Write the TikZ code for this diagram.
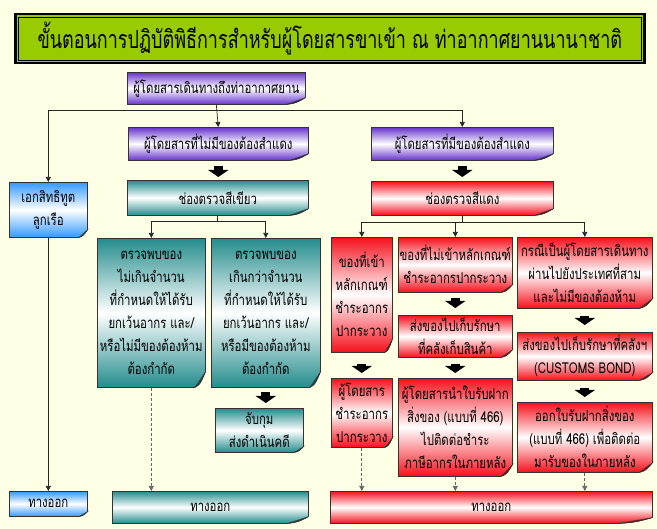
\documentclass[tikz,border=0pt]{standalone}
\usepackage{fontspec}
\newfontfamily\thai[Script=Thai,FakeStretch=0.76]{Loma}
\newfontfamily\thaititle[Script=Thai,FakeStretch=0.72]{Loma}
\usetikzlibrary{arrows.meta,calc}
\definecolor{bg}{HTML}{FFFFE6}
\definecolor{titlegreen}{HTML}{99CC00}
\definecolor{cpurple}{HTML}{6633CC}
\definecolor{cteal}{HTML}{238C8C}
\definecolor{cred}{HTML}{F5101C}
\definecolor{cblue}{HTML}{3399FF}
\newcommand\foldcorner[4]{%
  \fill[bg] ($(#1.south east)+(1.2,1.2)$) -- ($(#1.south east)+(-#3,1.2)$) -- ($(#1.south east)+(-#3,0)$) -- ($(#1.south east)+(0,-#4)$) -- ($(#1.south east)+(1.2,-#4)$) -- cycle;
  \draw[black!80,line width=0.6pt] ($(#1.south east)+(-#3-0.3,0)$) -- ($(#1.south east)+(-#3,0)$) .. controls ($(#1.south east)+(-0.5*#3,-0.2*#4)$) .. ($(#1.south east)+(0,-#4)$) -- ($(#1.south east)+(0,-#4-0.3)$);
  \fill[#2!55!black, draw=black!80, line width=0.4pt] ($(#1.south east)+(-#3,0)$) .. controls ($(#1.south east)+(-0.5*#3,-0.2*#4)$) .. ($(#1.south east)+(0,-#4)$) -- ($(#1.south east)+(-0.45*#3,-0.55*#4)$) -- cycle;
}
\begin{document}
\begin{tikzpicture}[x=1pt,y=-1pt,
  doc/.style={draw=black!80, line width=0.6pt, align=center, inner sep=0pt, anchor=north west,
    font=\thai\fontsize{15}{23}\selectfont},
  purp/.style={top color=cpurple, bottom color=cpurple, middle color=white},
  teal/.style={top color=cteal, bottom color=cteal, middle color=white},
  redd/.style={top color=cred, bottom color=cred, middle color=white},
  blu/.style={top color=cblue, bottom color=cblue, middle color=white},
  conn/.style={draw=black!85, line width=0.7pt},
  tip/.style={-{Triangle[width=5pt,length=5pt]}},
  dconn/.style={draw=black!60, line width=0.7pt, dash pattern=on 3pt off 2pt},
  blockarrow/.style={black, line width=9pt, -{Triangle[width=20pt,length=7pt]}},
]
\fill[bg] (0,0) rectangle (657,529);
\useasboundingbox (0,0) rectangle (657,529);

% title
\node[draw=black, line width=2.5pt, fill=titlegreen, minimum width=629pt, minimum height=49pt,
  anchor=north west, inner sep=0pt, font=\thaititle\fontsize{25}{30}\selectfont] (title) at (14,13)
  {ขั้นตอนการปฏิบัติพิธีการสำหรับผู้โดยสารขาเข้า ณ ท่าอากาศยานนานาชาติ};
\draw[line width=0.8pt] ($(title.north west)+(4,4)$) rectangle ($(title.south east)+(-4,-4)$);

% nodes
\node[doc, purp, minimum width=178pt, minimum height=32pt] (n1) at (127,72) {ผู้โดยสารเดินทางถึงท่าอากาศยาน};
\node[doc, purp, minimum width=180pt, minimum height=33pt] (n2) at (128,127) {ผู้โดยสารที่ไม่มีของต้องสำแดง};
\node[doc, purp, minimum width=182pt, minimum height=33pt] (n3) at (371,127) {ผู้โดยสารที่มีของต้องสำแดง};
\node[doc, blu, minimum width=78pt, minimum height=55pt] (diplo) at (9,182) {เอกสิทธิทูต\\ลูกเรือ};
\node[doc, teal, minimum width=181pt, minimum height=35pt] (gch) at (127,180) {ช่องตรวจสีเขียว};
\node[doc, redd, minimum width=182pt, minimum height=34pt] (rch) at (371,181) {ช่องตรวจสีแดง};
\node[doc, teal, minimum width=108pt, minimum height=149pt] (g1) at (97,238)
  {ตรวจพบของ\\ไม่เกินจำนวน\\ที่กำหนดให้ได้รับ\\ยกเว้นอากร และ/\\หรือไม่มีของต้องห้าม\\ต้องกำกัด};
\node[doc, teal, minimum width=109pt, minimum height=149pt] (g2) at (211,238)
  {ตรวจพบของ\\เกินกว่าจำนวน\\ที่กำหนดให้ได้รับ\\ยกเว้นอากร และ/\\หรือมีของต้องห้าม\\ต้องกำกัด};
\node[doc, teal, minimum width=88pt, minimum height=44pt] (jab) at (215,408) {จับกุม\\ส่งดำเนินคดี};
\node[doc, blu, minimum width=78pt, minimum height=25pt] (bexit) at (9,491) {ทางออก};
\node[doc, teal, minimum width=196pt, minimum height=32pt] (gexit) at (112,491) {ทางออก};
\node[doc, redd, minimum width=61pt, minimum height=115pt] (rA) at (331,237) {ของที่เข้า\\หลักเกณฑ์\\ชำระอากร\\ปากระวาง};
\node[doc, redd, minimum width=114pt, minimum height=55pt] (rB) at (398,237) {ของที่ไม่เข้าหลักเกณฑ์\\ชำระอากรปากระวาง};
\node[doc, redd, minimum width=135pt, minimum height=71pt] (rC) at (517,237) {กรณีเป็นผู้โดยสารเดินทาง\\ผ่านไปยังประเทศที่สาม\\และไม่มีของต้องห้าม};
\node[doc, redd, minimum width=114pt, minimum height=42pt] (rD) at (398,315) {ส่งของไปเก็บรักษา\\ที่คลังเก็บสินค้า};
\node[doc, redd, minimum width=135pt, minimum height=48pt] (rE) at (517,332) {ส่งของไปเก็บรักษาที่คลังฯ\\(CUSTOMS BOND)};
\node[doc, redd, minimum width=61pt, minimum height=69pt] (rF) at (331,378) {ผู้โดยสาร\\ชำระอากร\\ปากระวาง};
\node[doc, redd, minimum width=114pt, minimum height=98pt] (rG) at (398,378) {ผู้โดยสารนำใบรับฝาก\\สิ่งของ (แบบที่ 466)\\ไปติดต่อชำระ\\ภาษีอากรในภายหลัง};
\node[doc, redd, minimum width=135pt, minimum height=70pt] (rH) at (517,402) {ออกใบรับฝากสิ่งของ\\(แบบที่ 466) เพื่อติดต่อ\\มารับของในภายหลัง};
\node[doc, redd, minimum width=322pt, minimum height=32pt] (rexit) at (330,491) {ทางออก};

% folded corners
\foldcorner{n1}{cpurple}{20}{7}
\foldcorner{n2}{cpurple}{20}{7}
\foldcorner{n3}{cpurple}{20}{7}
\foldcorner{diplo}{cblue}{9}{8}
\foldcorner{gch}{cteal}{20}{7}
\foldcorner{rch}{cred}{20}{7}
\foldcorner{g1}{cteal}{11}{16}
\foldcorner{g2}{cteal}{11}{16}
\foldcorner{jab}{cteal}{10}{6}
\foldcorner{bexit}{cblue}{9}{5}
\foldcorner{gexit}{cteal}{22}{7}
\foldcorner{rA}{cred}{8}{14}
\foldcorner{rB}{cred}{12}{8}
\foldcorner{rC}{cred}{14}{10}
\foldcorner{rD}{cred}{12}{8}
\foldcorner{rE}{cred}{14}{8}
\foldcorner{rF}{cred}{8}{10}
\foldcorner{rG}{cred}{12}{12}
\foldcorner{rH}{cred}{14}{10}
\foldcorner{rexit}{cred}{36}{6}

% connectors
\coordinate (ytop) at (0,110);
\coordinate (hl) at (diplo.north |- ytop);
\coordinate (hr) at (n3.north |- ytop);
\draw[conn,tip] (n1.south) -- (n2.north);
\draw[conn] (hl) -- (hr);
\draw[conn,tip] (hl) -- (diplo.north);
\draw[conn,tip] (hr) -- (n3.north);
\draw[conn,tip] (diplo.south) -- (bexit.north);

\draw[blockarrow, shorten <=5pt, shorten >=3pt] (n2.south) -- (n2.south |- gch.north);
\draw[blockarrow, shorten <=5pt, shorten >=4pt] (n3.south) -- (n3.south |- rch.north);

\coordinate (yg) at (0,221);
\draw[conn] (gch.south) -- (gch.south |- yg);
\draw[conn] (g1.north |- yg) -- (g2.north |- yg);
\draw[conn,tip] (g1.north |- yg) -- (g1.north);
\draw[conn,tip] (g2.north |- yg) -- (g2.north);
\draw[dconn,tip] (g1.south) -- (g1.south |- gexit.north);
\draw[blockarrow, shorten <=5pt, shorten >=5pt] (g2.south |- jab.north) ++(0,-21) -- (g2.south |- jab.north);

\coordinate (yr) at (0,222);
\draw[conn] (rch.south) -- (rch.south |- yr);
\draw[conn] (rA.north |- yr) -- (rC.north |- yr);
\draw[conn,tip] (rA.north |- yr) -- (rA.north);
\draw[conn,tip] (rB.north |- yr) -- (rB.north);
\draw[conn,tip] (rC.north |- yr) -- (rC.north);

\draw[blockarrow, shorten <=11pt, shorten >=5pt] (rA.south) -- (rF.north);
\draw[blockarrow, shorten <=5pt, shorten >=7pt] (rB.south) -- (rD.north);
\draw[blockarrow, shorten <=6pt, shorten >=5pt] (rD.south) -- (rG.north);
\draw[blockarrow, shorten <=7pt, shorten >=7pt] (rC.south) -- (rE.north);
\draw[blockarrow, shorten <=7pt, shorten >=5pt] (rE.south) -- (rH.north);

\draw[dconn,tip] (rF.south) -- (rF.south |- rexit.north);
\draw[dconn,tip] (rG.south) -- (rG.south |- rexit.north);
\draw[dconn,tip] (rH.south) -- (rH.south |- rexit.north);
\end{tikzpicture}
\end{document}
